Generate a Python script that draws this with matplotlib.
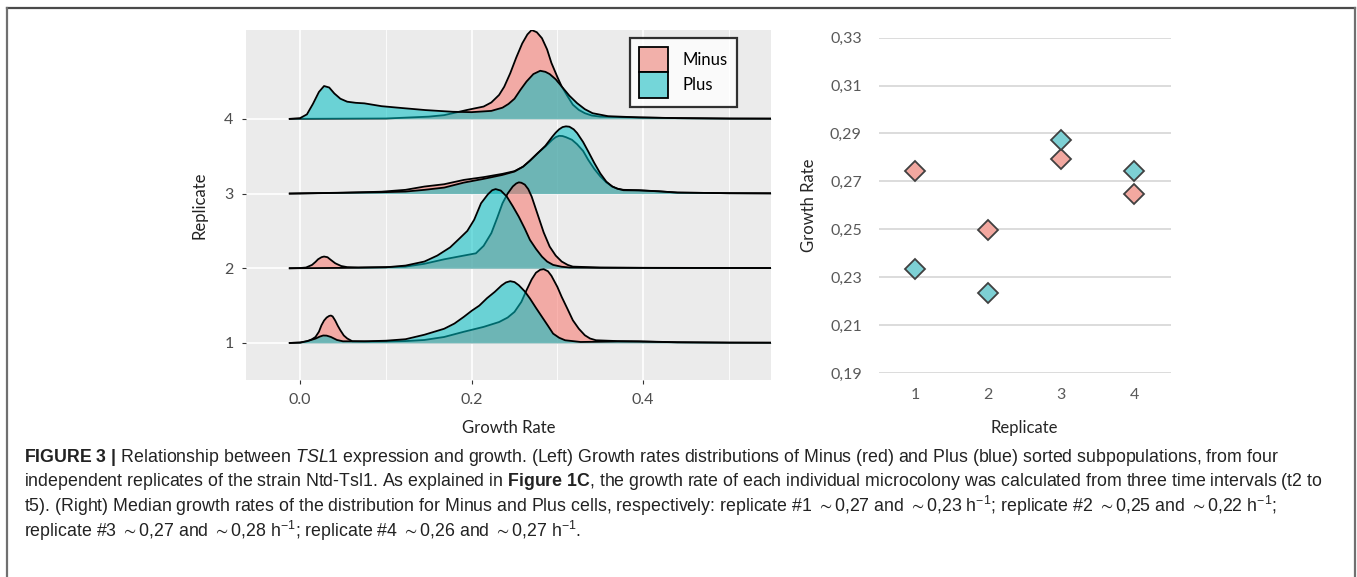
import numpy as np
import matplotlib
matplotlib.use("Agg")
import matplotlib.pyplot as plt
from matplotlib.patches import Patch
from matplotlib.lines import Line2D

# ---- ridgeline data (growth rate, density height in row units) ----
x_m1 = [-0.012, 0.0, 0.008, 0.014, 0.018, 0.022, 0.025, 0.028, 0.031, 0.034, 0.036, 0.038, 0.041, 0.044,
        0.047, 0.051, 0.055, 0.061, 0.08, 0.1, 0.123, 0.145, 0.168, 0.191, 0.214, 0.232, 0.242, 0.25,
        0.258, 0.264, 0.27, 0.275, 0.28, 0.284, 0.289, 0.293, 0.3, 0.305, 0.312, 0.318, 0.325, 0.332,
        0.338, 0.345, 0.37, 0.395, 0.44, 0.5, 0.55]
h_m1 = [0.0, 0.005, 0.02, 0.05, 0.08, 0.15, 0.237, 0.3, 0.34, 0.362, 0.367, 0.355, 0.3, 0.23,
        0.17, 0.1, 0.06, 0.022, 0.018, 0.02, 0.025, 0.04, 0.08, 0.15, 0.215, 0.28, 0.34, 0.416,
        0.55, 0.706, 0.85, 0.94, 0.98, 0.988, 0.96, 0.9, 0.75, 0.617, 0.45, 0.304, 0.19, 0.103,
        0.06, 0.036, 0.025, 0.022, 0.009, 0.004, 0.003]
x_p1 = [-0.012, 0.0, 0.01, 0.018, 0.023, 0.027, 0.031, 0.036, 0.043, 0.05, 0.075, 0.1, 0.123, 0.145,
        0.168, 0.18, 0.191, 0.2, 0.209, 0.218, 0.227, 0.235, 0.24, 0.245, 0.25, 0.255, 0.262, 0.268,
        0.275, 0.282, 0.289, 0.295, 0.302, 0.309, 0.327, 0.37, 0.395, 0.44, 0.5, 0.55]
h_p1 = [0.0, 0.005, 0.03, 0.058, 0.085, 0.1, 0.098, 0.08, 0.04, 0.022, 0.022, 0.03, 0.05, 0.11,
        0.19, 0.26, 0.35, 0.43, 0.5, 0.6, 0.684, 0.77, 0.81, 0.827, 0.815, 0.773, 0.69, 0.595,
        0.47, 0.35, 0.23, 0.125, 0.07, 0.036, 0.013, 0.02, 0.018, 0.009, 0.004, 0.003]

x_m2 = [-0.012, 0.0, 0.007, 0.014, 0.018, 0.021, 0.025, 0.028, 0.032, 0.035, 0.041, 0.048, 0.055,
        0.068, 0.1, 0.123, 0.145, 0.168, 0.191, 0.205, 0.214, 0.223, 0.23, 0.236, 0.242, 0.248,
        0.252, 0.255, 0.258, 0.262, 0.266, 0.27, 0.277, 0.284, 0.291, 0.298, 0.305, 0.312, 0.318,
        0.35, 0.4, 0.5, 0.55]
h_m2 = [0.0, 0.003, 0.01, 0.045, 0.085, 0.12, 0.148, 0.157, 0.148, 0.12, 0.067, 0.03, 0.015,
        0.01, 0.015, 0.022, 0.06, 0.12, 0.17, 0.2, 0.3, 0.47, 0.68, 0.87, 1.0, 1.095,
        1.135, 1.15, 1.145, 1.12, 1.06, 0.96, 0.72, 0.48, 0.29, 0.17, 0.09, 0.045, 0.022,
        0.01, 0.006, 0.004, 0.003]
x_p2 = [-0.012, 0.05, 0.1, 0.123, 0.145, 0.16, 0.175, 0.186, 0.195, 0.203, 0.211, 0.219, 0.224,
        0.228, 0.234, 0.241, 0.248, 0.255, 0.262, 0.268, 0.275, 0.282, 0.288, 0.295, 0.305, 0.314,
        0.35, 0.45, 0.55]
h_p2 = [0.0, 0.005, 0.013, 0.036, 0.09, 0.17, 0.28, 0.4, 0.5, 0.65, 0.87, 0.99, 1.045,
        1.06, 1.04, 0.96, 0.83, 0.69, 0.53, 0.38, 0.26, 0.156, 0.09, 0.045, 0.02, 0.01,
        0.006, 0.004, 0.003]

x_m3 = [-0.012, 0.05, 0.095, 0.123, 0.145, 0.168, 0.191, 0.214, 0.236, 0.25, 0.26, 0.268, 0.277,
        0.286, 0.294, 0.298, 0.302, 0.306, 0.31, 0.317, 0.323, 0.33, 0.336, 0.343, 0.35, 0.357,
        0.364, 0.37, 0.377, 0.395, 0.418, 0.44, 0.5, 0.55]
h_m3 = [0.0, 0.012, 0.025, 0.05, 0.094, 0.125, 0.183, 0.22, 0.264, 0.3, 0.36, 0.44, 0.54,
        0.63, 0.72, 0.755, 0.773, 0.77, 0.755, 0.72, 0.66, 0.57, 0.45, 0.33, 0.23, 0.15,
        0.094, 0.065, 0.05, 0.045, 0.03, 0.013, 0.005, 0.003]
x_p3 = [-0.012, 0.05, 0.095, 0.123, 0.145, 0.168, 0.191, 0.214, 0.236, 0.25, 0.26, 0.268, 0.277,
        0.286, 0.294, 0.298, 0.302, 0.306, 0.31, 0.314, 0.319, 0.323, 0.33, 0.336, 0.343, 0.35,
        0.357, 0.364, 0.37, 0.377, 0.395, 0.418, 0.44, 0.5, 0.55]
h_p3 = [0.0, 0.01, 0.018, 0.027, 0.05, 0.08, 0.147, 0.197, 0.25, 0.295, 0.36, 0.44, 0.54,
        0.64, 0.76, 0.815, 0.86, 0.89, 0.9, 0.895, 0.86, 0.81, 0.69, 0.563, 0.41, 0.27,
        0.16, 0.094, 0.065, 0.045, 0.042, 0.03, 0.013, 0.005, 0.003]

x_m4 = [-0.012, 0.1, 0.15, 0.168, 0.195, 0.214, 0.223, 0.232, 0.238, 0.245, 0.252, 0.259, 0.265,
        0.27, 0.276, 0.282, 0.288, 0.293, 0.3, 0.305, 0.312, 0.318, 0.325, 0.332, 0.34, 0.35,
        0.395, 0.44, 0.5, 0.55]
h_m4 = [0.0, 0.005, 0.03, 0.05, 0.12, 0.165, 0.22, 0.32, 0.43, 0.61, 0.82, 1.01, 1.13,
        1.19, 1.16, 1.08, 0.93, 0.75, 0.56, 0.434, 0.3, 0.19, 0.12, 0.076, 0.045, 0.03,
        0.018, 0.01, 0.004, 0.003]
x_p4 = [-0.012, 0.0, 0.008, 0.015, 0.022, 0.028, 0.034, 0.04, 0.047, 0.055, 0.065, 0.075, 0.095,
        0.119, 0.146, 0.178, 0.2, 0.223, 0.236, 0.243, 0.25, 0.257, 0.264, 0.272, 0.28, 0.286,
        0.291, 0.298, 0.305, 0.314, 0.323, 0.332, 0.341, 0.359, 0.395, 0.44, 0.5, 0.55]
h_p4 = [0.0, 0.01, 0.06, 0.2, 0.36, 0.44, 0.42, 0.34, 0.27, 0.23, 0.215, 0.208, 0.17,
        0.145, 0.118, 0.095, 0.09, 0.107, 0.15, 0.2, 0.27, 0.39, 0.5, 0.6, 0.644, 0.63,
        0.6, 0.53, 0.434, 0.31, 0.21, 0.13, 0.076, 0.036, 0.02, 0.01, 0.004, 0.003]

ridge_minus = [(x_m1, h_m1), (x_m2, h_m2), (x_m3, h_m3), (x_m4, h_m4)]
ridge_plus = [(x_p1, h_p1), (x_p2, h_p2), (x_p3, h_p3), (x_p4, h_p4)]

# ---- median growth rates (right panel) ----
replicates = [1, 2, 3, 4]
median_minus = [0.2745, 0.2497, 0.2794, 0.2647]
median_plus = [0.2333, 0.2233, 0.2873, 0.2743]
yticks_right = [0.19, 0.21, 0.23, 0.25, 0.27, 0.29, 0.31, 0.33]

caption_lines = [
    r"$\mathbf{FIGURE\ 3\ |}$ Relationship between $\mathit{TSL1}$ expression and growth. (Left) Growth rates "
    r"distributions of Minus (red) and Plus (blue) sorted subpopulations, from four",
    r"independent replicates of the strain Ntd-Tsl1. As explained in $\mathbf{Figure\ 1C}$, the growth rate "
    r"of each individual microcolony was calculated from three time intervals (t2 to",
    r"t5). (Right) Median growth rates of the distribution for Minus and Plus cells, respectively: replicate "
    r"#1 ${\sim}$0,27 and ${\sim}$0,23 h$^{-1}$; replicate #2 ${\sim}$0,25 and ${\sim}$0,22 h$^{-1}$;",
    r"replicate #3 ${\sim}$0,27 and ${\sim}$0,28 h$^{-1}$; replicate #4 ${\sim}$0,26 and ${\sim}$0,27 h$^{-1}$.",
]

RED = "#F8766D"
BLUE = "#00BFC4"
W, H = 1357, 577

plt.rcParams["mathtext.fontset"] = "custom"
plt.rcParams["mathtext.rm"] = "Liberation Sans"
plt.rcParams["mathtext.it"] = "Liberation Sans:italic"
plt.rcParams["mathtext.bf"] = "Liberation Sans:bold"
plt.rcParams["mathtext.fallback"] = "stixsans"

fig = plt.figure(figsize=(W / 100, H / 100), dpi=100)


def box(x0, y0, x1, y1):
    """pixel box (top-left origin) -> figure rect"""
    return [x0 / W, 1 - y1 / H, (x1 - x0) / W, (y1 - y0) / H]


# ---------------- left: ridgeline plot ----------------
ax = fig.add_axes(box(246, 30, 771, 380))
ax.set_facecolor("#EBEBEB")
for s in ax.spines.values():
    s.set_visible(False)
ax.set_xlim(-0.063, 0.549)
ax.set_ylim(0.504, 5.19)
ax.set_xticks([0.0, 0.2, 0.4])
ax.set_xticklabels(["0.0", "0.2", "0.4"])
ax.set_xticks([0.1, 0.3, 0.5], minor=True)
ax.set_yticks(replicates)
ax.set_yticklabels([str(r) for r in replicates])
ax.grid(True, which="major", color="white", lw=1.2, zorder=0)
ax.grid(True, which="minor", axis="x", color="white", lw=0.6, zorder=0)
ax.set_axisbelow(True)
ax.tick_params(which="major", length=3, width=0.8, color="#333333", labelcolor="#4D4D4D",
               labelsize=11.5)
ax.tick_params(axis="x", pad=6)
ax.tick_params(axis="y", pad=6)
ax.tick_params(which="minor", length=0)
for lab in ax.get_xticklabels() + ax.get_yticklabels():
    lab.set_family("Lato")

# draw top row first so lower ridges sit in front
for i in [3, 2, 1, 0]:
    base = replicates[i]
    z = 2 + (3 - i) * 3
    xm, hm = ridge_minus[i]
    xp, hp = ridge_plus[i]
    ax.fill_between(xm, base, base + np.array(hm), color=RED, alpha=0.55, lw=0, zorder=z)
    ax.plot(xm, base + np.array(hm), color="black", lw=1.3, zorder=z + 0.5,
            solid_joinstyle="round")
    ax.fill_between(xp, base, base + np.array(hp), color=BLUE, alpha=0.55, lw=0, zorder=z + 1)
    ax.plot(xp, base + np.array(hp), color="black", lw=1.3, zorder=z + 1.5,
            solid_joinstyle="round")

ax.set_xlabel("Growth Rate", family="Lato", fontsize=12, color="#222222", labelpad=10)
ax.set_ylabel("Replicate", family="Lato", fontsize=12, color="#222222", labelpad=12)

handles = [Patch(facecolor="#F2B0AA", edgecolor="black", lw=1.3, label="Minus"),
           Patch(facecolor="#74D6D9", edgecolor="black", lw=1.3, label="Plus")]
leg = ax.legend(handles=handles, loc="upper left", bbox_to_anchor=(0.731, 0.977),
                borderaxespad=0, frameon=True, fancybox=False,
                prop={"family": "Lato", "size": 12}, handlelength=1.75, handleheight=1.95,
                labelspacing=0.0, handletextpad=0.85, borderpad=0.55)
leg.get_frame().set_edgecolor("black")
leg.get_frame().set_linewidth(1.6)
leg.set_zorder(30)

# ---------------- right: median growth rates ----------------
ax2 = fig.add_axes(box(878.5, 37.7, 1170.5, 373))
for s in ax2.spines.values():
    s.set_visible(False)
ax2.set_xlim(0.5, 4.5)
ax2.set_ylim(0.19, 0.33)
ax2.set_xticks(replicates)
ax2.set_xticklabels([str(r) for r in replicates])
ax2.set_yticks(yticks_right)
ax2.set_yticklabels([f"{v:.2f}".replace(".", ",") for v in yticks_right])
ax2.grid(True, axis="y", color="#D9D9D9", lw=1.3, zorder=0)
ax2.set_axisbelow(True)
ax2.tick_params(length=0, labelcolor="#595959", labelsize=11.5)
ax2.tick_params(axis="y", pad=12)
ax2.tick_params(axis="x", pad=11)
for lab in ax2.get_xticklabels() + ax2.get_yticklabels():
    lab.set_family("Lato")
ax2.plot(replicates, median_minus, ls="none", marker="D", ms=10, mfc="#F2A8A0", mec="#404040",
         mew=1.3, zorder=3, clip_on=False)
ax2.plot(replicates, median_plus, ls="none", marker="D", ms=10, mfc="#7DD0D4", mec="#404040",
         mew=1.3, zorder=3, clip_on=False)
ax2.set_xlabel("Replicate", family="Lato", fontsize=12, color="#262626", labelpad=13)
ax2.set_ylabel("Growth Rate", family="Lato", fontsize=12, color="#262626", labelpad=9)

# ---------------- frame and caption ----------------
fig.add_artist(Line2D([7 / W, 1355 / W], [1 - 8 / H, 1 - 8 / H], color="#4A4A4A", lw=1.6))
fig.add_artist(Line2D([7 / W, 7 / W], [0, 1 - 8 / H], color="#707070", lw=1.6))
fig.add_artist(Line2D([1355 / W, 1355 / W], [0, 1 - 8 / H], color="#707070", lw=1.6))

for k, line in enumerate(caption_lines):
    fig.text(24 / W, 1 - (457 + 24.7 * k) / H, line, ha="left", va="center",
             family=["Liberation Sans", "DejaVu Sans"], fontsize=12.8, color="#222222")

fig.savefig("out.png", dpi=100)
